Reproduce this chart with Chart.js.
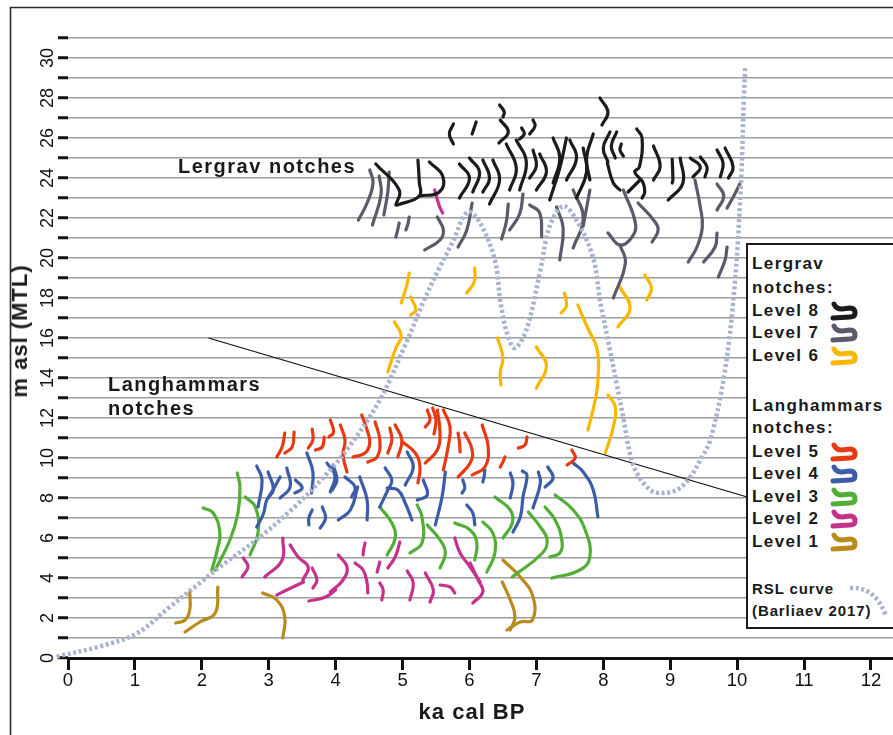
<!DOCTYPE html>
<html><head><meta charset="utf-8">
<script src="https://cdn.jsdelivr.net/npm/chart.js@4.4.1/dist/chart.umd.min.js"></script>
<style>
html,body{margin:0;padding:0;background:#fff;}
body{width:893px;height:735px;overflow:hidden;position:relative;font-family:"Liberation Sans",Arial,sans-serif;}
canvas{position:absolute;left:0;top:0;}
.t{position:absolute;font-weight:bold;color:#1a1a1a;white-space:nowrap;}
.ann{font-size:20px;letter-spacing:1.5px;line-height:24px;}
.lg{font-size:17px;letter-spacing:1.4px;line-height:20px;}
.lgs{font-size:15px;letter-spacing:0.9px;line-height:18px;}
#legend{position:absolute;left:746px;top:243px;width:170px;height:386px;border:2px solid #1a1a1a;background:#fff;box-sizing:border-box;}
svg.ic{position:absolute;overflow:visible;}
</style></head>
<body>
<canvas id="c" width="893" height="735"></canvas>
<div class="t ann" style="left:178px;top:154px;">Lergrav notches</div>
<div class="t ann" style="left:108px;top:372px;">Langhammars</div>
<div class="t ann" style="left:108px;top:396px;">notches</div>
<div class="t" style="left:472px;top:712px;font-size:22px;letter-spacing:1px;line-height:26px;transform:translate(-50%,-50%);">ka cal BP</div>
<div class="t" style="left:20px;top:331px;font-size:22px;letter-spacing:1px;line-height:26px;transform:translate(-50%,-50%) rotate(-90deg);">m asl (MTL)</div>
<div id="legend"></div>
<div id="legtext"></div>
<script>
// ---------------- DATA ----------------
const xTickValues = [0,1,2,3,4,5,6,7,8,9,10,11,12];
const yTickLabels = [0,2,4,6,8,10,12,14,16,18,20,22,24,26,28,30];
const legendGroups = ["Lergrav", "notches:", "Langhammars", "notches:"];
const levelNames = ["Level 8","Level 7","Level 6","Level 5","Level 4","Level 3","Level 2","Level 1"];
const rslLabel = ["RSL curve", "(Barliaev 2017)"];

// RSL curve (Barliaev 2017): ka cal BP vs m asl
const rslX = [-0.17,0.5,1.03,1.5,1.97,2.27,2.87,3.4,3.92,4.2,4.66,5.06,5.31,5.55,5.75,5.97,6.15,6.38,6.46,6.56,6.68,6.86,7.06,7.2,7.4,7.6,7.85,7.95,8.1,8.2,8.3,8.4,8.5,8.7,8.85,9.1,9.3,9.45,9.6,9.82,9.97,10.06,10.1,10.12];
const rslY = [0.07,0.6,1.23,2.5,3.75,4.55,6.05,7.6,9.4,10.55,12.9,15.8,17.8,19.5,20.8,22.3,21.8,19.9,17.9,16.25,15.5,16.5,19.4,21.6,22.6,21.9,20.0,17.9,15.4,13.7,12.0,10.2,9.25,8.4,8.25,8.4,9.05,9.9,10.9,14.4,18.9,23.9,27.9,29.5];

// boundary line between Lergrav and Langhammars
const boundaryX = [2.1, 10.15];
const boundaryY = [16.0, 8.05];

// notches: each entry = [x1,y1, x2,y2, ...] (ka cal BP, m asl)
const level8 = [
 [5.76,26.7, 5.7,26.2, 5.76,25.7],
 [6.1,26.8, 6.07,26.5, 6.04,26.2],
 [6.45,27.65, 6.52,27.3, 6.5,27.05],
 [6.46,26.9, 6.58,26.3, 6.44,25.75],
 [6.95,26.9, 6.98,26.6, 6.9,26.2],
 [6.78,26.5, 6.82,26.2, 6.75,25.95],
 [7.95,28.0, 8.07,27.3, 7.98,26.65],
 [8.1,26.3, 8.0,25.5, 8.07,24.8],
 [8.2,26.3, 8.12,25.6, 8.18,25.0],
 [8.27,25.7, 8.25,25.4, 8.3,25.1],
 [4.6,24.7, 4.95,23.4, 4.9,22.65],
 [5.23,24.9, 5.25,23.8, 5.25,23.1, 4.92,22.65],
 [5.4,24.8, 5.6,24.1, 5.55,23.3, 5.25,23.1],
 [5.85,24.7, 6.0,24.0, 5.85,23.0],
 [6.0,25.0, 6.15,24.3, 6.05,23.3],
 [6.2,24.9, 6.3,24.0, 6.2,23.3],
 [6.35,24.9, 6.45,23.9, 6.3,22.7],
 [6.55,25.7, 6.7,24.5, 6.6,23.4],
 [6.7,25.9, 6.85,24.8, 6.75,23.4],
 [6.95,25.4, 7.0,24.6, 6.9,24.0],
 [7.05,25.2, 7.15,24.3, 7.0,23.4],
 [7.25,26.0, 7.35,25.0, 7.25,23.75],
 [7.45,26.0, 7.35,24.5, 7.2,22.9],
 [7.5,25.9, 7.6,25.0, 7.45,23.9],
 [7.7,25.5, 7.75,24.3, 7.6,23.0],
 [7.85,26.2, 7.75,25.0, 7.8,23.9],
 [8.06,24.75, 8.15,23.75, 8.25,23.4],
 [8.5,26.45, 8.58,26.0, 8.54,24.55, 8.47,24.3, 8.59,23.8, 8.62,23.3, 8.58,23.0],
 [8.37,23.3, 8.46,23.6, 8.55,23.9],
 [8.75,25.6, 8.85,24.6, 8.75,23.9],
 [9.03,24.95, 9.04,23.9, 9.03,23.75],
 [9.15,25.0, 9.19,23.75, 8.97,22.9],
 [9.3,25.0, 9.45,24.55, 9.34,24.05],
 [9.45,25.05, 9.55,24.55, 9.52,24.05],
 [9.7,25.4, 9.79,24.75, 9.75,24.05],
 [9.82,25.5, 9.94,24.55, 9.87,24.0]
];
const level7 = [
 [4.51,24.4, 4.56,23.75, 4.47,22.75, 4.34,21.9],
 [4.65,24.1, 4.68,23.2, 4.55,21.65],
 [4.8,24.3, 4.78,23.3, 4.72,22.15],
 [4.95,21.75, 4.92,21.3, 4.9,21.05],
 [5.1,22.05, 5.08,21.7, 5.05,21.4],
 [5.52,22.05, 5.61,21.4, 5.56,20.9, 5.33,20.4],
 [6.04,22.75, 5.96,21.4, 5.83,20.55],
 [6.58,22.7, 6.55,21.8, 6.48,20.95],
 [6.8,23.2, 6.75,22.2, 6.6,21.4],
 [6.9,22.65, 7.05,22.25, 7.08,21.05],
 [7.3,22.55, 7.4,21.5, 7.35,19.9],
 [7.55,23.4, 7.7,22.0, 7.55,20.5],
 [7.8,23.4, 7.75,22.5, 7.7,21.6],
 [8.3,23.4, 8.48,21.75, 8.43,21.05, 8.25,20.65, 8.07,21.25],
 [8.25,20.65, 8.33,19.75, 8.15,18.0],
 [8.52,22.75, 8.75,21.9, 8.82,21.4, 8.73,20.8],
 [9.37,23.9, 9.45,22.55, 9.48,21.55, 9.4,20.55, 9.27,19.8],
 [9.7,21.25, 9.67,20.55, 9.5,19.8],
 [9.85,20.55, 9.82,19.9, 9.72,19.05],
 [9.7,23.7, 9.8,23.1, 9.7,22.4],
 [10.04,23.7, 9.95,23.1, 9.85,22.5]
];
const level6 = [
 [5.1,19.25, 5.06,18.6, 4.98,17.75],
 [5.12,18.05, 5.2,17.4, 5.12,17.15],
 [4.88,16.8, 4.98,16.1, 4.9,15.5, 4.78,14.3],
 [6.08,19.5, 6.07,18.8, 5.96,18.25],
 [6.42,16.0, 6.5,15.0, 6.46,14.3, 6.47,13.65],
 [7.0,15.55, 7.15,14.6, 7.0,13.5],
 [7.42,18.25, 7.45,17.6, 7.37,17.25],
 [7.62,17.65, 7.76,16.55, 7.91,15.4, 7.92,13.9, 7.88,12.9, 7.77,11.4],
 [8.07,13.15, 8.18,12.55, 8.15,11.55, 8.03,10.25],
 [8.25,18.55, 8.4,17.5, 8.22,16.55],
 [8.62,19.15, 8.72,18.5, 8.65,17.9]
];
const level5 = [
 [3.24,11.25, 3.2,10.55, 3.12,10.05],
 [3.38,11.3, 3.35,10.55, 3.24,10.25],
 [3.65,11.45, 3.66,10.9, 3.59,10.5],
 [3.83,11.05, 3.8,10.55, 3.7,10.4],
 [3.92,11.9, 3.97,11.3, 3.9,11.05],
 [4.07,11.65, 4.14,10.9, 4.11,10.15, 4.17,9.3],
 [4.39,12.15, 4.47,11.4, 4.51,10.75, 4.44,10.25, 4.26,10.05],
 [4.59,11.8, 4.66,10.9, 4.62,10.05, 4.48,9.8],
 [4.81,11.5, 4.84,10.9, 4.78,10.25],
 [4.89,11.65, 4.99,10.9, 4.93,10.05],
 [5.0,10.8, 5.19,10.25, 5.26,9.55, 5.23,8.75],
 [5.37,12.4, 5.41,11.9, 5.34,11.55],
 [5.52,12.4, 5.56,11.25, 5.52,10.4, 5.34,9.75],
 [5.45,12.5, 5.5,11.9, 5.47,11.2],
 [5.61,12.4, 5.71,11.55, 5.68,10.55, 5.61,9.4],
 [5.83,11.25, 5.85,10.8, 5.86,10.3],
 [5.93,11.25, 6.04,10.4, 6.01,9.75, 5.83,9.05],
 [6.19,11.65, 6.28,10.55, 6.23,9.55, 6.04,9.15],
 [6.53,10.05, 6.5,9.8, 6.46,9.55],
 [6.86,11.05, 6.83,10.65, 6.73,10.5],
 [7.53,10.4, 7.58,10.0, 7.46,9.65]
];
const level4 = [
 [2.82,9.6, 2.9,8.9, 2.84,7.55],
 [2.99,9.3, 3.07,8.4, 2.97,7.9, 2.92,7.2, 2.82,6.55],
 [3.17,9.05, 3.08,8.5, 2.99,8.0],
 [3.27,9.5, 3.32,8.55, 3.17,8.0],
 [3.4,8.9, 3.5,8.5, 3.39,8.25],
 [3.57,10.25, 3.66,9.3, 3.64,8.25],
 [3.87,9.75, 3.99,9.1, 3.92,8.3],
 [3.65,7.4, 3.6,7.0, 3.6,6.65],
 [3.8,7.55, 3.85,7.0, 3.77,6.5],
 [3.96,9.65, 4.02,8.9, 3.95,8.4],
 [4.14,9.05, 4.29,8.55, 4.24,8.05],
 [4.36,9.05, 4.47,7.9, 4.47,6.9],
 [4.33,8.55, 4.22,7.4, 4.04,6.9],
 [4.74,9.5, 4.84,8.9, 4.78,8.4, 4.66,7.55],
 [4.77,8.5, 4.93,8.4, 5.04,7.75, 5.14,6.9],
 [5.07,10.3, 5.16,9.55, 5.04,8.65],
 [5.31,8.9, 5.37,8.15, 5.22,7.9],
 [5.64,9.3, 5.59,8.05, 5.49,6.65],
 [5.9,8.9, 5.93,8.5, 5.89,8.25],
 [5.96,7.65, 6.05,7.25, 6.08,6.65],
 [6.23,9.4, 6.22,9.1, 6.2,8.8],
 [6.61,9.25, 6.65,8.75, 6.61,8.0],
 [6.79,9.35, 6.86,9.15, 6.8,8.05, 6.76,7.05, 6.65,6.3],
 [7.03,9.3, 7.06,8.75, 6.95,7.5],
 [7.17,9.55, 7.25,9.0, 7.13,8.55],
 [7.55,9.75, 7.7,9.3, 7.85,8.4, 7.92,7.05]
];
const level3 = [
 [2.02,7.5, 2.17,7.25, 2.27,6.25, 2.23,5.4, 2.15,4.4],
 [2.53,9.25, 2.57,8.55, 2.54,7.25, 2.42,5.9, 2.2,4.4],
 [2.65,8.05, 2.8,7.55, 2.84,6.25, 2.72,5.15],
 [4.66,7.55, 4.84,6.75, 4.89,6.0, 4.77,5.15],
 [5.22,7.65, 5.29,7.05, 5.29,5.75, 5.11,5.25],
 [5.37,6.65, 5.56,5.9, 5.64,5.25, 5.56,4.5],
 [5.78,6.75, 6.01,6.4, 6.11,5.75, 6.08,4.9],
 [6.38,8.05, 6.61,7.4, 6.64,6.75, 6.5,6.0],
 [6.2,6.8, 6.35,6.25, 6.38,5.25, 6.26,4.3],
 [6.88,7.3, 7.06,6.55, 7.16,5.9, 7.09,5.25, 6.64,4.05],
 [7.13,7.55, 7.28,6.9, 7.38,5.9, 7.35,5.25, 7.2,5.05],
 [7.28,8.15, 7.55,7.4, 7.73,6.4, 7.8,5.05, 7.65,4.4, 7.23,4.0]
];
const level2 = [
 [5.48,23.4, 5.55,22.6, 5.6,22.25],
 [2.62,5.0, 2.69,4.55, 2.6,4.05],
 [3.21,6.0, 3.2,4.9, 2.94,4.05],
 [3.32,5.65, 3.44,5.05, 3.59,4.55, 3.51,3.9],
 [3.12,3.15, 3.3,3.45, 3.52,3.8],
 [3.65,4.5, 3.72,3.9, 3.66,3.5],
 [3.6,2.85, 3.85,3.05, 4.0,3.4],
 [4.44,5.75, 4.42,5.45, 4.41,5.15],
 [4.96,5.8, 4.89,5.05, 4.78,4.5],
 [4.66,4.8, 4.64,4.55, 4.62,4.3],
 [4.04,5.15, 4.17,4.55, 4.11,3.9, 3.92,3.3],
 [4.29,4.75, 4.41,4.4, 4.47,3.75, 4.48,3.25],
 [4.66,3.75, 4.71,3.4, 4.69,2.9],
 [5.07,4.35, 5.16,3.75, 5.11,2.9],
 [5.34,4.25, 5.46,3.4, 5.41,2.8],
 [5.56,3.65, 5.71,3.55, 5.78,3.25],
 [5.78,6.0, 5.86,5.25, 6.01,4.55, 6.16,3.8],
 [6.01,4.75, 6.13,3.9, 6.2,3.3, 6.05,2.75]
];
const level1 = [
 [1.82,3.3, 1.82,2.4, 1.75,1.9, 1.61,1.75],
 [2.24,3.55, 2.2,2.25, 1.97,1.8, 1.75,1.3],
 [2.91,3.25, 3.12,2.9, 3.24,2.05, 3.21,1.0],
 [6.5,4.9, 6.76,4.05, 6.95,3.05, 6.94,1.9, 6.76,1.8, 6.56,1.4],
 [6.49,3.8, 6.61,2.9, 6.68,2.05, 6.61,1.4]
];

// ---------------- STYLE ----------------
const levelColors = ["#1b1b1b","#5b5a69","#f9b700","#e53a12","#3c5ca8","#52ae36","#c5328c","#b98a1c"];
const levelData = [level8, level7, level6, level5, level4, level3, level2, level1];
const rslColor = "#a9b3cd";

const datasets = [];
datasets.push({
  data: rslX.map((x,i)=>({x:x, y:rslY[i]})), showLine:true, borderColor:rslColor,
  borderWidth:4.5, borderDash:[3,2.6], pointRadius:0, tension:0.35, fill:false, clip:false, order:0
});
datasets.push({
  data: boundaryX.map((x,i)=>({x:x, y:boundaryY[i]})), showLine:true, borderColor:"#111",
  borderWidth:1.3, pointRadius:0, fill:false, order:0
});
levelData.forEach((lv, li) => {
  lv.forEach(n => {
    const pts = [];
    for (let i = 0; i < n.length; i += 2) pts.push({x:n[i], y:n[i+1]});
    datasets.push({data:pts, showLine:true, borderColor:levelColors[li], borderWidth:3.2,
      pointRadius:0, tension:0.45, borderCapStyle:'round', borderJoinStyle:'round', fill:false, order:1});
  });
});

const framePlugin = {
  id:'frame',
  beforeDraw(chart){
    const ctx = chart.ctx;
    ctx.save();
    ctx.strokeStyle = '#2b2b2b'; ctx.lineWidth = 1.6;
    ctx.beginPath(); ctx.moveTo(10.5, 735); ctx.lineTo(10.5, 7.5); ctx.lineTo(893, 7.5); ctx.stroke();
    ctx.restore();
  },
  afterDraw(chart){
    const ctx = chart.ctx, ys = chart.scales.y;
    ctx.save();
    ctx.fillStyle = '#111';
    ctx.font = '18px "Liberation Sans", Arial, sans-serif';
    ctx.textAlign = 'center'; ctx.textBaseline = 'middle';
    yTickLabels.forEach(v => {
      const py = ys.getPixelForValue(v);
      ctx.save(); ctx.translate(47, py); ctx.rotate(-Math.PI/2); ctx.fillText(String(v), 0, 1); ctx.restore();
    });
    ctx.restore();
  }
};

new Chart(document.getElementById('c'), {
  type:'scatter',
  data:{datasets:datasets},
  options:{
    animation:false, responsive:false, devicePixelRatio:1,
    layout:{padding:{top:38,left:0,right:0,bottom:0}},
    plugins:{legend:{display:false}, tooltip:{enabled:false}},
    scales:{
      x:{type:'linear', min:0, max:12.33,
        afterFit(s){ s.height = 77; },
        afterBuildTicks(s){ s.ticks = xTickValues.map(v=>({value:v})); },
        grid:{drawOnChartArea:false, drawTicks:true, tickLength:12, tickWidth:3, tickColor:'#111'},
        border:{display:true, color:'#111', width:3},
        ticks:{color:'#111', font:{size:18.5, family:'"Liberation Sans", Arial, sans-serif'}, padding:0, maxRotation:0, autoSkip:false}
      },
      y:{type:'linear', min:0, max:31,
        afterFit(s){ s.width = 68; },
        grid:{color:(c)=> c.tick && c.tick.value === 0 ? 'rgba(0,0,0,0)' : '#9d9d9d', lineWidth:1.5,
              drawTicks:true, tickLength:10, tickWidth:3, tickColor:'#111'},
        border:{display:false},
        ticks:{stepSize:1, display:false}
      }
    }
  },
  plugins:[framePlugin]
});

// ---------------- LEGEND (HTML) ----------------
const legTxt = document.getElementById('legtext');
function addText(txt, cls, left, cy, lh){
  const d = document.createElement('div');
  d.className = 't ' + cls; d.textContent = txt;
  d.style.left = left + 'px'; d.style.top = (cy - lh/2) + 'px';
  legTxt.appendChild(d);
}
const iconPath = "M4 2 Q6 7 12 7 L20 6 Q25 6 25 11 Q25 15 20 15 L3 16";
function addIcon(color, cy){
  const ns = 'http://www.w3.org/2000/svg';
  const s = document.createElementNS(ns, 'svg');
  s.setAttribute('class','ic'); s.setAttribute('width','30'); s.setAttribute('height','20');
  s.style.left = '830px'; s.style.top = (cy - 9) + 'px';
  const p = document.createElementNS(ns, 'path');
  p.setAttribute('d', iconPath); p.setAttribute('fill','none'); p.setAttribute('stroke', color);
  p.setAttribute('stroke-width','5'); p.setAttribute('stroke-linecap','round'); p.setAttribute('stroke-linejoin','round');
  s.appendChild(p); legTxt.appendChild(s);
}
addText(legendGroups[0], 'lg', 752, 264, 20);
addText(legendGroups[1], 'lg', 752, 288, 20);
const lergY = [311, 333, 356];
for (let i = 0; i < 3; i++){ addText(levelNames[i], 'lg', 752, lergY[i], 20); addIcon(levelColors[i], lergY[i]); }
addText(legendGroups[2], 'lg', 752, 406, 20);
addText(legendGroups[3], 'lg', 752, 428, 20);
const langY = [452, 474, 497, 519, 542];
for (let i = 0; i < 5; i++){ addText(levelNames[3+i], 'lg', 752, langY[i], 20); addIcon(levelColors[3+i], langY[i]); }
addText(rslLabel[0], 'lgs', 752, 589, 18);
addText(rslLabel[1], 'lgs', 752, 611, 18);
(function(){
  const ns = 'http://www.w3.org/2000/svg';
  const s = document.createElementNS(ns, 'svg');
  s.setAttribute('class','ic'); s.setAttribute('width','40'); s.setAttribute('height','34');
  s.style.left = '849px'; s.style.top = '585px';
  const p = document.createElementNS(ns, 'path');
  p.setAttribute('d', 'M1 3 Q26 1 37 31'); p.setAttribute('fill','none'); p.setAttribute('stroke', rslColor);
  p.setAttribute('stroke-width','4.5'); p.setAttribute('stroke-dasharray','3 2.6');
  s.appendChild(p); legTxt.appendChild(s);
})();
</script>
</body></html>
